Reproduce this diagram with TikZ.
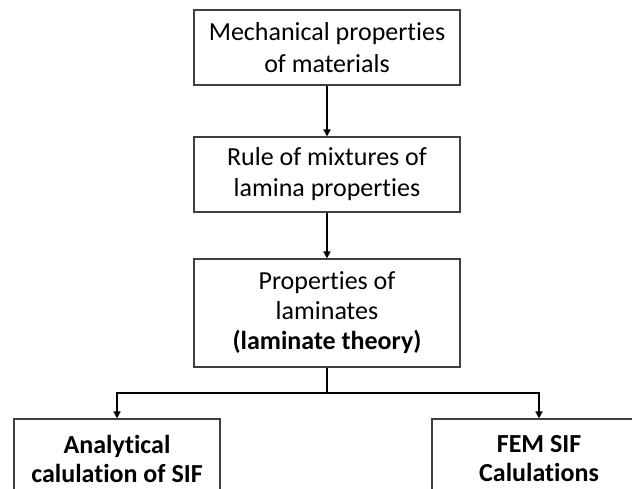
\documentclass[tikz,border=0pt]{standalone}
\usepackage{fontspec}
\setmainfont[Ligatures={NoCommon}]{Carlito}
\usetikzlibrary{arrows.meta}
\begin{document}
\begin{tikzpicture}[x=1pt,y=-1pt,
  box/.style={draw=black!75,line width=1.2pt,rectangle,align=center,inner sep=0pt,
    font=\fontsize{26}{32}\selectfont},
  conn/.style={line width=1.6pt,-{Triangle[length=7pt,width=7pt]}}]
\clip (0,0) rectangle (632,488);
\fill[white] (0,0) rectangle (632,488);
\node[box,minimum width=266pt,minimum height=75pt] (mech) at (327,47.5) {Mechanical properties\\of materials};
\node[box,minimum width=266pt,minimum height=75pt,font=\fontsize{26}{31}\selectfont] (rule) at (327,174.5) {Rule of mixtures of\\lamina properties};
\node[box,minimum width=266pt,minimum height=108pt,font=\fontsize{26}{30}\selectfont] (lam) at (327,313) {Properties of\\laminates\\\textbf{(laminate theory)}};
\node[box,minimum width=206pt,minimum height=80pt,font=\fontsize{26}{29}\selectfont\bfseries] (ana) at (117,459) {Analytical\\calulation of SIF};
\node[box,minimum width=214pt,minimum height=80pt,font=\fontsize{26}{29}\selectfont\bfseries] (fem) at (539,459) {FEM SIF\\Calulations};
\coordinate (split) at (327,393);
\draw[conn] (mech) -- (rule);
\draw[conn] (rule) -- (lam);
\draw[line width=1.6pt] (lam.south) -- (split);
\draw[conn] (split) -| (ana.north);
\draw[conn] (split) -| (fem.north);
\end{tikzpicture}
\end{document}
